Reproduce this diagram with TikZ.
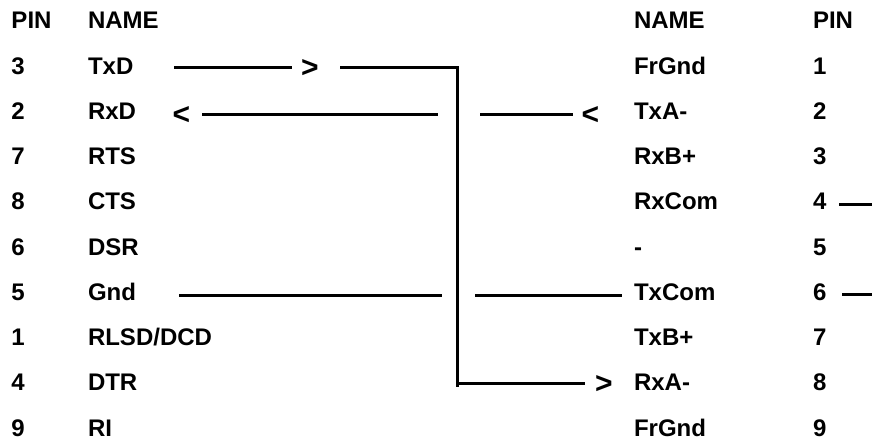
\documentclass[tikz,border=0pt]{standalone}
\usepackage{fontspec}
\setmainfont{Liberation Sans}
\begin{document}
\begin{tikzpicture}[x=1pt,y=-1pt,
  lbl/.style={anchor=base west,inner sep=0pt,outer sep=0pt,font=\fontsize{24}{26}\selectfont\bfseries},
  tip/.style={anchor=base west,inner sep=0pt,outer sep=0pt,font=\fontsize{30}{32}\selectfont\bfseries},
  wire/.style={line width=3pt,line cap=butt,line join=miter}]
\useasboundingbox (0,0) rectangle (872,440);
\foreach \n/\y/\a/\b/\c/\d in {h/28/PIN/NAME/NAME/PIN,r1/74/3/TxD/FrGnd/1,r2/119.25/2/RxD/TxA-/2,r3/164.5/7/RTS/RxB+/3,r4/209.75/8/CTS/RxCom/4,r5/255/6/DSR/-/5,r6/300/5/Gnd/TxCom/6,r7/345.5/1/RLSD\slash DCD/TxB+/7,r8/390.75/4/DTR/RxA-/8,r9/436/9/RI/FrGnd/9}{
  \node[lbl] (\n a) at (11.5,\y) {\a};
  \node[lbl] (\n b) at (88,\y) {\b};
  \node[lbl] (\n c) at (634,\y) {\c};
  \node[lbl] (\n d) at (813,\y) {\d};
}
\node[tip] (gt1) at (301,77) {>};
\node[tip] (lt1) at (172.5,124) {<};
\node[tip] (lt2) at (581.5,124) {<};
\node[tip] (gt2) at (595,393.5) {>};
\coordinate (a1) at (174,67.5); \coordinate (a2) at (292,67.5);
\coordinate (b1) at (340,67.5); \coordinate (b2) at (457.5,67.5);
\coordinate (b3) at (457.5,387); \coordinate (b0) at (457.5,383.5); \coordinate (b4) at (585,383.5);
\coordinate (c1) at (202,114.5); \coordinate (c2) at (438,114.5);
\coordinate (d1) at (480,114.5); \coordinate (d2) at (573,114.5);
\coordinate (e1) at (179,295); \coordinate (e2) at (442,295);
\coordinate (f1) at (475,295); \coordinate (f2) at (622,295);
\coordinate (g1) at (839,204.5); \coordinate (g2) at (872,204.5);
\coordinate (k1) at (842,294); \coordinate (k2) at (872,294);
\draw[wire] (a1) -- (a2);
\draw[wire] (b1) -- (b2) -- (b3);
\draw[wire] (b0) -- (b4);
\draw[wire] (c1) -- (c2);
\draw[wire] (d1) -- (d2);
\draw[wire] (e1) -- (e2);
\draw[wire] (f1) -- (f2);
\draw[wire] (g1) -- (g2);
\draw[wire] (k1) -- (k2);
\end{tikzpicture}
\end{document}
